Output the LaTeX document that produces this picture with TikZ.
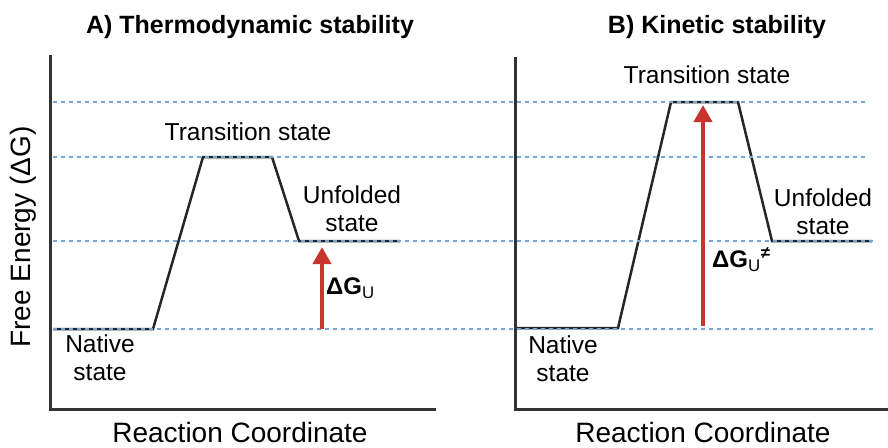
\documentclass[tikz,border=0pt]{standalone}
\usepackage{fontspec}
\setmainfont{Liberation Sans}
\usetikzlibrary{arrows.meta}
\definecolor{dotblue}{HTML}{6FA8DC}
\definecolor{arrred}{HTML}{C8342E}
\definecolor{axisgray}{HTML}{333333}
\begin{document}
\begin{tikzpicture}[x=1pt,y=-1pt,
  axisline/.style={draw=axisgray,line width=3pt},
  energycurve/.style={draw=black!85,line width=2.5pt,line join=miter},
  guide/.style={draw=dotblue,line width=2.4pt,dash pattern=on 4pt off 4pt},
  deltaarrow/.style={draw=arrred,line width=4pt,-{Triangle[width=18pt,length=17pt]}},
  statelabel/.style={font=\fontsize{24.5}{28}\selectfont,align=center,inner sep=0pt},
  axislabel/.style={font=\fontsize{28}{30}\selectfont,inner sep=0pt},
  paneltitle/.style={font=\fontsize{25}{28}\selectfont\bfseries,inner sep=0pt},
  deltalabel/.style={font=\fontsize{24}{26}\selectfont\bfseries,inner sep=0pt,anchor=west}]
\useasboundingbox (0,0) rectangle (888,447);
% ---- panel A curve
\coordinate (a0) at (53,329);
\coordinate (a1) at (153,329);
\coordinate (a2) at (203,157);
\coordinate (a3) at (272,157);
\coordinate (a4) at (299,241);
\coordinate (a5) at (400,241);
\draw[energycurve] (a0) -- (a1) -- (a2) -- (a3) -- (a4) -- (a5);
% ---- panel B curve
\coordinate (b0) at (517,328);
\coordinate (b1) at (618,328);
\coordinate (b2) at (671,102);
\coordinate (b3) at (738,102);
\coordinate (b4) at (772,241);
\coordinate (b5) at (872,241);
\draw[energycurve] (b0) -- (b1) -- (b2) -- (b3) -- (b4) -- (b5);
% ---- guide lines
\coordinate (g1s) at (53,102); \coordinate (g1e) at (866,102);
\coordinate (g2s) at (53,157); \coordinate (g2e) at (866,157);
\coordinate (g3s) at (53,241); \coordinate (g3e) at (874,241);
\coordinate (g4s) at (53,329); \coordinate (g4e) at (874,329);
\draw[guide] (g1s) -- (g1e);
\draw[guide] (g2s) -- (g2e);
\draw[guide] (g3s) -- (g3e);
\draw[guide] (g4s) -- (g4e);
% ---- axes
\coordinate (ayt) at (50,55); \coordinate (ao) at (50,409); \coordinate (axr) at (436,409);
\coordinate (byt) at (515,57); \coordinate (bo) at (515,409); \coordinate (bxr) at (888,409);
\draw[axisline] (ayt) -- (ao) -- (axr);
\draw[axisline] (byt) -- (bo) -- (bxr);
% ---- arrows
\coordinate (aas) at (322,329); \coordinate (aae) at (322,247);
\coordinate (bas) at (703,326); \coordinate (bae) at (703,105);
\draw[deltaarrow] (aas) -- (aae);
\draw[deltaarrow] (bas) -- (bae);
% ---- labels
\node[paneltitle] (titleA) at (250,27) {A) Thermodynamic stability};
\node[paneltitle] (titleB) at (717,27) {B) Kinetic stability};
\node[statelabel] (tsA) at (248,132) {Transition state};
\node[statelabel] (ufA) at (352,209) {Unfolded\\state};
\node[statelabel] (nsA) at (100,358) {Native\\state};
\node[deltalabel] (dgA) at (326,288) {ΔG\textsubscript{\mdseries U}};
\node[statelabel] (tsB) at (707,75) {Transition state};
\node[statelabel] (ufB) at (823,212) {Unfolded\\state};
\node[statelabel] (nsB) at (563,359) {Native\\state};
\node[deltalabel] (dgB) at (712,260) {ΔG\textsubscript{\mdseries U}\textsuperscript{≠}};
\node[axislabel,rotate=90] (yl) at (23,237) {Free Energy (ΔG)};
\node[axislabel,anchor=base] (xlA) at (240,442) {Reaction Coordinate};
\node[axislabel,anchor=base] (xlB) at (703,442) {Reaction Coordinate};
\end{tikzpicture}
\end{document}
